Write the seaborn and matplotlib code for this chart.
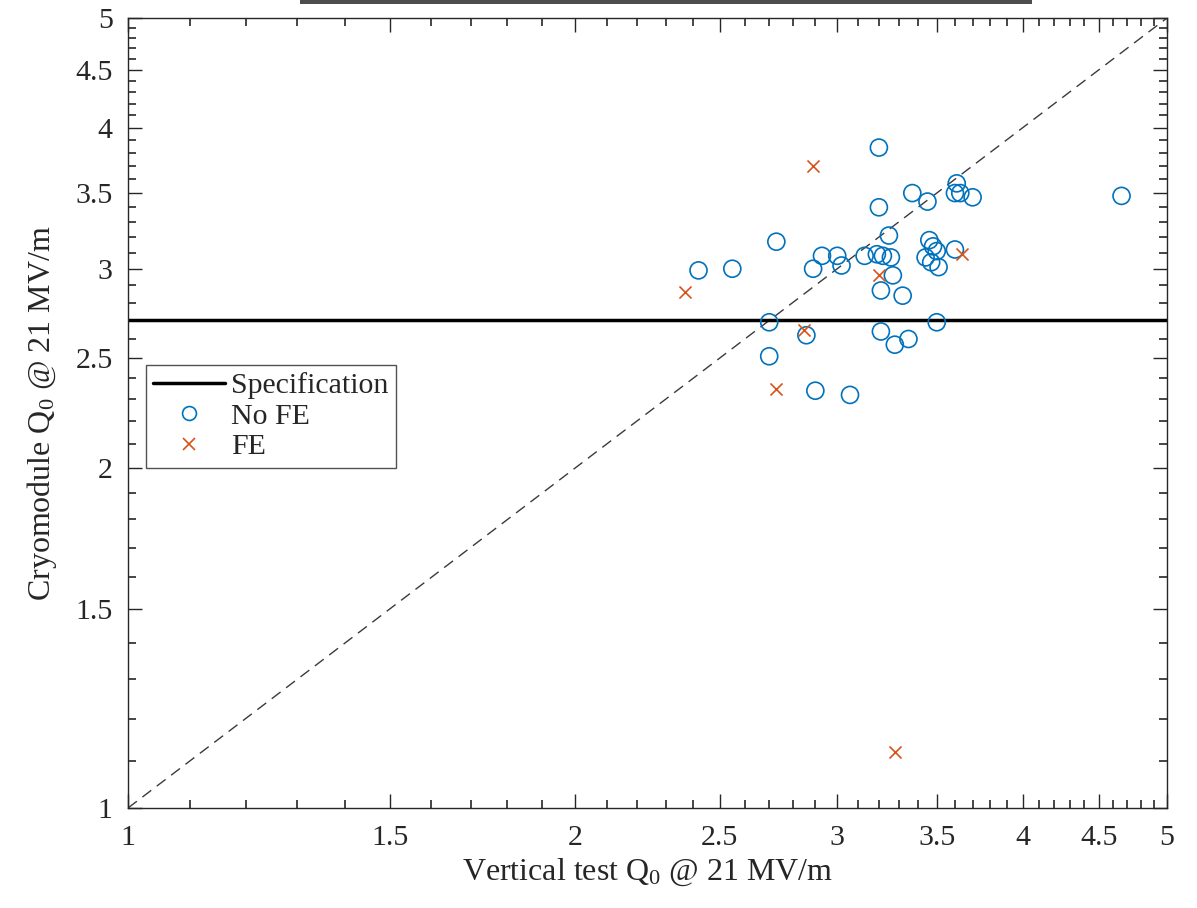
import pandas as pd
import matplotlib
matplotlib.use("Agg")
import matplotlib.pyplot as plt
import seaborn as sns
from matplotlib.lines import Line2D
from matplotlib.patches import Rectangle
from matplotlib.ticker import FixedLocator, FuncFormatter, NullFormatter

# данные: Q0 (x1e10) вертикальный тест / криомодуль
no_fe_vt = [2.42, 2.55, 2.73, 2.70, 2.70, 2.86, 2.90, 3.06, 2.89, 2.93,
            3.00, 3.02, 3.13, 3.19, 3.22, 3.26, 3.25, 3.20, 3.20, 3.37,
            3.45, 3.61, 3.60, 3.63, 3.70, 3.46, 3.48, 3.50, 3.44, 3.47,
            3.51, 3.60, 3.27, 3.21, 3.32, 3.21, 3.28, 3.35, 3.50, 4.66]
no_fe_cm = [2.99, 3.00, 3.17, 2.69, 2.51, 2.62, 2.34, 2.32, 3.00, 3.08,
            3.08, 3.02, 3.08, 3.09, 3.08, 3.07, 3.21, 3.40, 3.84, 3.50,
            3.44, 3.57, 3.50, 3.50, 3.47, 3.18, 3.14, 3.11, 3.07, 3.04,
            3.01, 3.12, 2.96, 2.87, 2.84, 2.64, 2.57, 2.60, 2.69, 3.48]

fe_vt = [2.37, 2.89, 2.85, 2.73, 3.20, 3.64, 3.28]
fe_cm = [2.86, 3.70, 2.65, 2.35, 2.96, 3.09, 1.12]

spec_q0 = 2.7
tick_vals = [1, 1.5, 2, 2.5, 3, 3.5, 4, 4.5, 5]
minor_vals = [1.1, 1.2, 1.3, 1.4, 1.6, 1.7, 1.8, 1.9, 2.1, 2.2, 2.3, 2.4,
              2.6, 2.7, 2.8, 2.9, 3.1, 3.2, 3.3, 3.4, 3.6, 3.7, 3.8, 3.9,
              4.1, 4.2, 4.3, 4.4, 4.6, 4.7, 4.8, 4.9]

BLUE = "#0072BD"
ORANGE = "#D95319"
DARK = "#262626"

sns.set_style("ticks")
plt.rcParams["font.family"] = ["Liberation Serif", "DejaVu Serif"]
plt.rcParams["mathtext.fontset"] = "custom"
plt.rcParams["mathtext.rm"] = "Liberation Serif"
plt.rcParams["mathtext.it"] = "Liberation Serif:italic"
# засечки внутрь, со всех четырёх сторон (как в MATLAB)
plt.rcParams.update({
    "xtick.direction": "in", "ytick.direction": "in",
    "xtick.bottom": True, "xtick.top": True,
    "ytick.left": True, "ytick.right": True,
    "xtick.minor.bottom": True, "xtick.minor.top": True,
    "ytick.minor.left": True, "ytick.minor.right": True,
    "xtick.major.size": 10, "ytick.major.size": 10,
    "xtick.minor.size": 6, "ytick.minor.size": 6,
    "xtick.major.width": 1.0, "ytick.major.width": 1.0,
    "xtick.minor.width": 1.2, "ytick.minor.width": 1.2,
    "xtick.major.pad": 12, "ytick.major.pad": 11,
    "xtick.color": DARK, "ytick.color": DARK,
    "xtick.labelsize": 21.5, "ytick.labelsize": 21.5,
})

df_nofe = pd.DataFrame({"vt": no_fe_vt, "cm": no_fe_cm})
df_fe = pd.DataFrame({"vt": fe_vt, "cm": fe_cm})

fig = plt.figure(figsize=(11.97, 9.08), dpi=100)
ax = fig.add_axes([128 / 1197, 100 / 908, 1039 / 1197, 790 / 908])

ax.set_xscale("log")
ax.set_yscale("log")

# диагональ y = x
ax.plot([1, 5], [1, 5], linestyle=(0, (8, 5)), color="#3a3a3a", linewidth=1.0, zorder=1)
# спецификация
ax.axhline(spec_q0, color="black", linewidth=2.5, zorder=2)

sns.scatterplot(data=df_nofe, x="vt", y="cm", marker="o", s=150,
                facecolors="none", edgecolor=BLUE, linewidth=1.2, ax=ax, zorder=3)
sns.scatterplot(data=df_fe, x="vt", y="cm", marker="x", s=75,
                color=ORANGE, linewidth=1.2, ax=ax, zorder=3)

ax.set_xlim(1, 5)
ax.set_ylim(1, 5)

for axis in (ax.xaxis, ax.yaxis):
    axis.set_major_locator(FixedLocator(tick_vals))
    axis.set_minor_locator(FixedLocator(minor_vals))
    axis.set_major_formatter(FuncFormatter(lambda v, p: f"{v:g}"))
    axis.set_minor_formatter(NullFormatter())

ax.xaxis.set_tick_params(which="minor", bottom=True, top=True, length=6, width=1.2, color=DARK)
ax.yaxis.set_tick_params(which="minor", left=True, right=True, length=6, width=1.2, color=DARK)
for sp in ax.spines.values():
    sp.set_visible(True)
    sp.set_color(DARK)
    sp.set_linewidth(1.0)

ax.set_xlabel("Vertical test Q$_0$ @ 21 MV/m", fontsize=23, color=DARK, labelpad=4)
ax.set_ylabel("Cryomodule Q$_0$ @ 21 MV/m", fontsize=23, color=DARK, labelpad=12)

handles = [
    Line2D([], [], color="black", linewidth=2.5),
    Line2D([], [], linestyle="none", marker="o", markersize=10,
           markerfacecolor="none", markeredgecolor=BLUE, markeredgewidth=1.2),
    Line2D([], [], linestyle="none", marker="x", markersize=8,
           color=ORANGE, markeredgewidth=1.2),
]
leg = ax.legend(handles, ["Specification", "No FE", "FE"], loc="upper left",
                bbox_to_anchor=(0.017, 0.561), fontsize=21.5, frameon=True,
                fancybox=False, handlelength=2.4, handletextpad=0.2,
                labelspacing=0.12, borderpad=0.25, borderaxespad=0)
leg.get_frame().set_edgecolor(DARK)
leg.get_frame().set_linewidth(1.0)

# полоса сверху (обрезанный заголовок)
fig.add_artist(Rectangle((300 / 1197, 904 / 908), 732 / 1197, 4 / 908,
                         transform=fig.transFigure, color="#4d4d4d", lw=0))

fig.savefig("out.png", dpi=100)
